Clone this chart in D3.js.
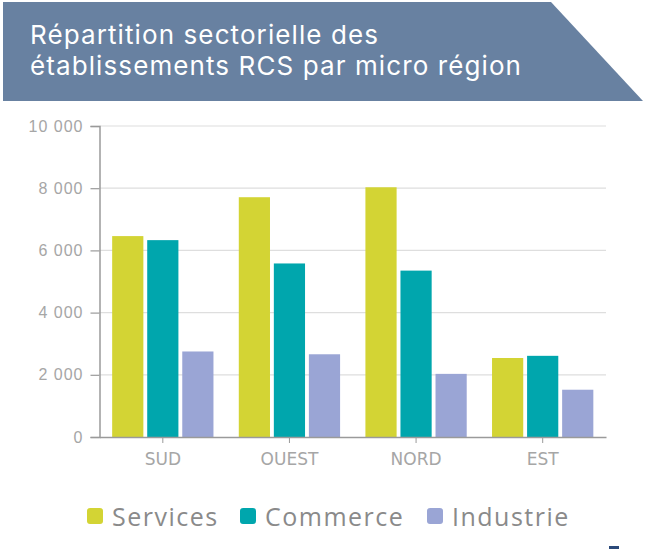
<!DOCTYPE html>
<html>
<head>
<meta charset="utf-8">
<script src="https://cdn.jsdelivr.net/npm/d3@7"></script>
<style>
  body { margin: 0; background: #fff; }
  svg { display: block; }
</style>
</head>
<body>
<div id="chart"></div>
<script>
// data
const regions = ['SUD', 'OUEST', 'NORD', 'EST'];
const series = ['Services', 'Commerce', 'Industrie'];
const services = [6460, 7710, 8030, 2540];
const commerce = [6330, 5580, 5350, 2610];
const industrie = [2750, 2660, 2030, 1520];
const yTicks = [0, 2000, 4000, 6000, 8000, 10000];
const titleLines = ['Répartition sectorielle des', 'établissements RCS par micro région'];

const w = 652;
const h = 549;
const colors = ['#d3d434', '#00a6ad', '#9aa5d5'];
const values = [services, commerce, industrie];

const svg = d3.select('#chart')
    .append('svg')
    .attr('width', w)
    .attr('height', h);

// header banner
svg.append('path')
    .attr('d', 'M3,2 L551,2 L643,101 L3,101 Z')
    .attr('fill', '#6881a1');

svg.selectAll('text.title')
    .data(titleLines)
    .enter()
    .append('text')
    .attr('class', 'title')
    .attr('x', 30)
    .attr('y', (d, i) => 44 + i * 31)
    .attr('fill', '#fff')
    .attr('font-family', 'Inter, sans-serif')
    .attr('font-size', 26)
    .attr('letter-spacing', 1.1)
    .text(d => d);

// scales
const plot = { left: 99.5, right: 606, top: 126, bottom: 437 };
const x0 = d3.scaleBand()
    .domain(regions)
    .range([plot.left, plot.right]);
const x1 = d3.scaleBand()
    .domain(series)
    .range([x0.bandwidth() * 0.1, x0.bandwidth() * 0.9])
    .paddingInner(0.11);
const y = d3.scaleLinear()
    .domain([0, 10000])
    .range([plot.bottom, plot.top]);

const fmt = v => d3.format(',')(v).replace(/,/g, ' ');

// gridlines
svg.append('g')
    .selectAll('line')
    .data(yTicks.slice(1))
    .enter()
    .append('line')
    .attr('x1', plot.left)
    .attr('x2', plot.right)
    .attr('y1', d => y(d))
    .attr('y2', d => y(d))
    .attr('stroke', '#dedede')
    .attr('stroke-width', 1.2);

// bars
const groups = svg.append('g')
    .selectAll('g')
    .data(regions)
    .enter()
    .append('g')
    .attr('transform', d => `translate(${x0(d)},0)`);

groups.selectAll('rect')
    .data((d, i) => series.map((s, j) => ({ s, v: values[j][i], c: colors[j] })))
    .enter()
    .append('rect')
    .attr('x', d => x1(d.s))
    .attr('width', x1.bandwidth())
    .attr('y', d => y(d.v))
    .attr('height', d => plot.bottom - y(d.v))
    .attr('fill', d => d.c);

// y axis
const yAxis = d3.axisLeft(y)
    .tickValues(yTicks)
    .tickFormat(fmt)
    .tickSize(9)
    .tickPadding(7);
const gy = svg.append('g')
    .attr('transform', `translate(${plot.left},0)`)
    .call(yAxis);
gy.select('.domain').attr('stroke', '#9a9a9a').attr('stroke-width', 1.5);
gy.selectAll('.tick line').attr('stroke', '#9a9a9a').attr('stroke-width', 1.2);
gy.selectAll('.tick text')
    .attr('fill', '#a6a6a6')
    .attr('font-family', '"Liberation Sans", Arial, sans-serif')
    .attr('font-size', 16)
    .attr('letter-spacing', 1);

// x axis
const xAxis = d3.axisBottom(x0)
    .tickSizeInner(6)
    .tickSizeOuter(0)
    .tickPadding(10);
const gx = svg.append('g')
    .attr('transform', `translate(0,${plot.bottom})`)
    .call(xAxis);
gx.select('.domain').attr('stroke', '#9a9a9a').attr('stroke-width', 1.5);
gx.selectAll('.tick line').attr('stroke', '#9a9a9a');
gx.selectAll('.tick text')
    .attr('fill', '#a6a6a6')
    .attr('font-family', '"DejaVu Sans", sans-serif')
    .attr('font-size', 17);

// legend
const legendX = [87, 240, 427];
const legend = svg.append('g')
    .selectAll('g')
    .data(series)
    .enter()
    .append('g')
    .attr('transform', (d, i) => `translate(${legendX[i]},508)`);
legend.append('rect')
    .attr('width', 16)
    .attr('height', 16)
    .attr('rx', 3)
    .attr('fill', (d, i) => colors[i]);
legend.append('text')
    .attr('x', 25)
    .attr('y', 18)
    .attr('fill', '#8a8a8a')
    .attr('font-family', '"Open Sans", sans-serif')
    .attr('font-size', 25)
    .attr('letter-spacing', 1.5)
    .text(d => d);

// small page mark bottom right
svg.append('rect')
    .attr('x', 609)
    .attr('y', 546)
    .attr('width', 10)
    .attr('height', 3)
    .attr('fill', '#2b4a7a');
</script>
</body>
</html>
